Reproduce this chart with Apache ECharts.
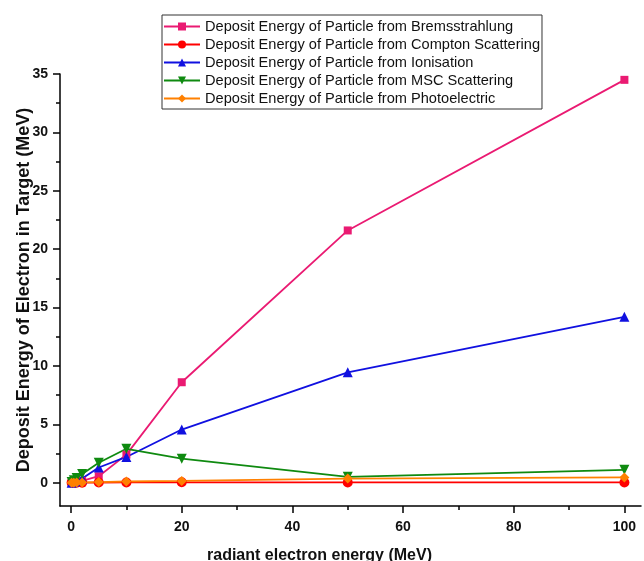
<!DOCTYPE html>
<html>
<head>
<meta charset="utf-8">
<script src="https://cdn.jsdelivr.net/npm/echarts@6/dist/echarts.min.js"></script>
<style>
  html, body { margin: 0; padding: 0; background: #fff; }
  #chart { width: 644px; height: 561px; }
</style>
</head>
<body>
<div id="chart"></div>
<script>
// incident electron energy (MeV)
const energies = [0.1, 0.5, 1, 2, 5, 10, 20, 50, 100]
// deposit energy per process (MeV)
const brems = [0, 0, 0.05, 0.15, 0.55, 2.4, 8.6, 21.6, 34.5]
const compton = [0, 0, 0, 0, 0.01, 0.02, 0.03, 0.02, 0.02]
const ionisation = [0, 0.05, 0.15, 0.35, 1.3, 2.2, 4.55, 9.45, 14.2]
const msc = [0.05, 0.2, 0.4, 0.75, 1.7, 2.9, 2.05, 0.5, 1.1]
const photo = [0, 0, 0.01, 0.02, 0.05, 0.1, 0.15, 0.35, 0.45]

const xMajor = [0, 20, 40, 60, 80, 100]
const xMinor = [10, 30, 50, 70, 90]
const yMajor = [0, 5, 10, 15, 20, 25, 30, 35]
const yMinor = [2.5, 7.5, 12.5, 17.5, 22.5, 27.5, 32.5]

const font = 'Liberation Sans, Arial, sans-serif'

function pairs(ys) {
    return energies.map((x, i) => [x, ys[i]])
}

function line(name, ys, color, symbol, rotate) {
    return {
        name: name,
        type: 'line',
        data: pairs(ys),
        symbol: symbol,
        symbolSize: symbol === 'rect' ? 8 : 10,
        symbolRotate: rotate || 0,
        lineStyle: { color: color, width: 1.8 },
        itemStyle: { color: color },
        z: 3
    }
}

const axisBase = {
    type: 'value',
    splitLine: { show: false },
    nameMoveOverlap: false,
    axisLine: { show: true, onZero: false, lineStyle: { color: '#000', width: 1.5 } }
}

const option = {
    animation: false,
    backgroundColor: '#fff',
    textStyle: { fontFamily: font },
    grid: { left: 60, top: 74, right: 3, bottom: 55, outerBoundsMode: 'none', containLabel: false },
    legend: {
        orient: 'vertical',
        left: 162,
        top: 15,
        padding: [4, 2, 3, 1],
        itemGap: 3,
        itemWidth: 36,
        itemHeight: 10,
        borderColor: '#333',
        borderWidth: 1,
        backgroundColor: '#fff',
        textStyle: { fontSize: 14.6, color: '#111', fontFamily: font, lineHeight: 15 }
    },
    xAxis: [
        Object.assign({}, axisBase, {
            min: -2, max: 103,
            position: 'bottom',
            name: 'radiant electron energy (MeV)',
            nameLocation: 'middle',
            nameGap: 42,
            nameTextStyle: { fontSize: 16, fontWeight: 'bold', color: '#111', fontFamily: font, padding: [0, 62, 0, 0] },
            axisTick: { show: true, inside: false, length: 7, customValues: xMajor, lineStyle: { color: '#000', width: 1.5 } },
            axisLabel: { customValues: xMajor, margin: 14, fontSize: 14, fontWeight: 'bold', color: '#111', fontFamily: font }
        }),
        Object.assign({}, axisBase, {
            min: -2, max: 103,
            position: 'bottom',
            axisTick: { show: true, inside: false, length: 4, customValues: xMinor, lineStyle: { color: '#000', width: 1.5 } },
            axisLabel: { show: false },
            axisLine: { show: false, onZero: false }
        })
    ],
    yAxis: [
        Object.assign({}, axisBase, {
            min: -2, max: 35,
            position: 'left',
            name: 'Deposit Energy of Electron in Target (MeV)',
            nameLocation: 'middle',
            nameGap: 27,
            nameTextStyle: { fontSize: 18, fontWeight: 'bold', color: '#111', fontFamily: font },
            axisTick: { show: true, inside: false, length: 7, customValues: yMajor, lineStyle: { color: '#000', width: 1.5 } },
            axisLabel: { customValues: yMajor, margin: 12, fontSize: 14, fontWeight: 'bold', color: '#111', fontFamily: font }
        }),
        Object.assign({}, axisBase, {
            min: -2, max: 35,
            position: 'left',
            axisTick: { show: true, inside: false, length: 4, customValues: yMinor, lineStyle: { color: '#000', width: 1.5 } },
            axisLabel: { show: false },
            axisLine: { show: false, onZero: false }
        })
    ],
    series: [
        line('Deposit Energy of Particle from Bremsstrahlung', brems, '#ea1a72', 'rect'),
        line('Deposit Energy of Particle from Compton Scattering', compton, '#ff0000', 'circle'),
        line('Deposit Energy of Particle from Ionisation', ionisation, '#1010e0', 'triangle'),
        line('Deposit Energy of Particle from MSC Scattering', msc, '#0f8a10', 'triangle', 180),
        line('Deposit Energy of Particle from Photoelectric', photo, '#ff8000', 'diamond')
    ]
}

const chart = echarts.init(document.getElementById('chart'))
chart.setOption(option)
</script>
</body>
</html>
